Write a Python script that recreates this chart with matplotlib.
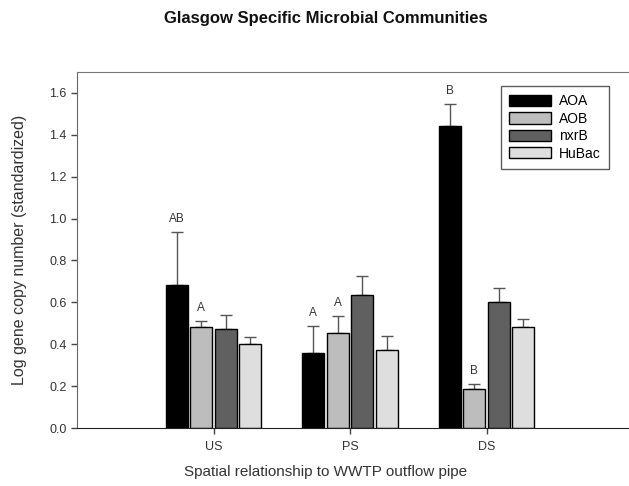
import matplotlib.pyplot as plt
import numpy as np

plt.rcParams['font.family'] = ['Liberation Sans', 'DejaVu Sans']

sites = ['US', 'PS', 'DS']
genes = ['AOA', 'AOB', 'nxrB', 'HuBac']
colors = ['#000000', '#bdbdbd', '#606060', '#dedede']

# mean log copy number (standardized) per site, one list per gene
aoa = [0.683, 0.360, 1.444]
aob = [0.484, 0.452, 0.185]
nxrb = [0.474, 0.634, 0.600]
hubac = [0.400, 0.371, 0.484]

# standard error (upper only)
aoa_err = [0.254, 0.127, 0.103]
aob_err = [0.028, 0.084, 0.024]
nxrb_err = [0.066, 0.093, 0.070]
hubac_err = [0.035, 0.067, 0.035]

# significance letters (gene index, site index, letter)
letters = [(0, 0, 'AB'), (1, 0, 'A'), (0, 1, 'A'), (1, 1, 'A'), (0, 2, 'B'), (1, 2, 'B')]

means = [aoa, aob, nxrb, hubac]
errs = [aoa_err, aob_err, nxrb_err, hubac_err]

fig = plt.figure(figsize=(6.29, 4.86), dpi=100)
ax_w = 4.15 * 136.5
ax = fig.add_axes([77 / 629, 58 / 486, ax_w / 629, 356 / 486])

x = np.arange(1, len(sites) + 1)
pitch = 0.18
width = 0.16
for i, gene in enumerate(genes):
    xpos = x + (i - 1.5) * pitch
    ax.bar(xpos, means[i], width, color=colors[i], edgecolor='black',
           linewidth=1.0, label=gene, zorder=2)
    ax.errorbar(xpos, means[i], yerr=[np.zeros(len(sites)), errs[i]], fmt='none',
                ecolor='#555555', elinewidth=1.0, capsize=4, capthick=1.0, zorder=1)

for gi, si, txt in letters:
    xp = x[si] + (gi - 1.5) * pitch
    top = means[gi][si] + errs[gi][si]
    ax.annotate(txt, (xp, top), xytext=(0, 5), textcoords='offset points',
                ha='center', va='bottom', fontsize=8.5, color='#333333')

ax.set_xlim(0, 4.15)
ax.set_ylim(0, 1.7)
ax.set_xticks(x)
ax.set_xticklabels(sites)
ax.set_yticks(np.arange(0, 1.61, 0.2))
ax.set_yticklabels([f'{v:.1f}' for v in np.arange(0, 1.61, 0.2)])
ax.tick_params(axis='both', direction='out', length=4, width=1, colors='#444444',
               labelsize=9, labelcolor='#333333')
ax.tick_params(axis='x', pad=5)

ax.spines['right'].set_visible(False)
ax.spines['left'].set_color('#666666')
ax.spines['top'].set_color('#777777')
ax.spines['bottom'].set_color('#222222')

ax.set_xlabel('Spatial relationship to WWTP outflow pipe', fontsize=11,
              color='#333333')
ax.xaxis.set_label_coords((326 - 77) / ax_w, -37 / 356)
ax.set_ylabel('Log gene copy number (standardized)', fontsize=11.5,
              color='#333333')
ax.yaxis.set_label_coords(-50 / ax_w, 0.5)

leg = ax.legend(loc='upper right', bbox_to_anchor=((609 - 77) / ax_w, (428 - 86) / 356),
                fancybox=False, frameon=True, edgecolor='#333333', fontsize=10,
                handlelength=3.0, handleheight=0.85, handletextpad=0.6,
                labelspacing=0.25, borderpad=0.6, borderaxespad=0)
leg.get_frame().set_linewidth(1.0)

fig.text(0.518, 0.962, 'Glasgow Specific Microbial Communities', ha='center',
         va='center', fontsize=12, fontweight='bold', color='#111111')

fig.savefig('out.png', dpi=100, facecolor='white')
